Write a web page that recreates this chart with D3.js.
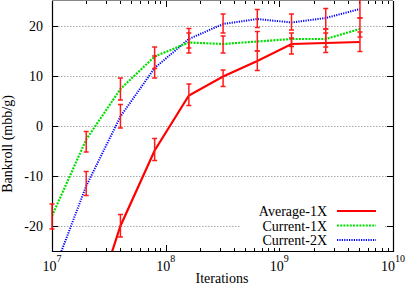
<!DOCTYPE html>
<html>
<head>
<meta charset="utf-8">
<script src="https://cdn.jsdelivr.net/npm/d3@7"></script>
<style>
  body { margin: 0; background: #fff; }
  text { font-family: "Liberation Serif", "DejaVu Serif", "Times New Roman", serif; }
</style>
</head>
<body>
<div id="chart"></div>
<script>
// iterations (doubling from 1e7)
var iters = [1e7, 2e7, 4e7, 8e7, 1.6e8, 3.2e8, 6.4e8, 1.28e9, 2.56e9, 5.12e9];

// Average-1X
var avg1x   = [null, -41, -20, -4.9, 6.1, 9.9, 13.0, 16.4, 16.6, 16.8];
var avg1xHi = [null, null, -17.7, -2.5, 8.4, 11.2, 15.0, 17.6, 18.6, 18.8];
var avg1xLo = [null, null, -22.2, -6.9, 4.1, 7.9, 11.1, 14.4, 14.7, 14.9];

// Current-1X
var cur1x   = [-18.0, -2.7, 7.4, 13.9, 16.7, 16.4, 16.9, 17.4, 17.4, 19.4];
var cur1xHi = [-15.6, -1.1, 9.6, 15.8, 18.6, 18.0, 18.9, 18.6, 19.4, 21.6];
var cur1xLo = [-20.6, -5.2, 5.2, 11.5, 14.6, 14.6, 15.0, 15.9, 15.8, 17.8];

// Current-2X
var cur2x   = [-30, -12, 1.9, 11.6, 17.4, 20.4, 21.4, 20.7, 21.6, 23.4];
var cur2xHi = [null, -9.1, 4.3, 14.0, 19.5, 22.4, 23.3, 22.4, 23.5, 25.4];
var cur2xLo = [null, -13.9, -0.4, 9.6, 15.6, 18.6, 19.7, 19.2, 19.4, 21.6];

var yTicks = [-20, -10, 0, 10, 20];
var xDecades = [1e7, 1e8, 1e9, 1e10];
var xExps = ["7", "8", "9", "10"];

var W = 407, H = 286;
var pLeft = 52, pRight = 393, pTop = 1, pBottom = 251;

var svg = d3.select("#chart").append("svg")
  .attr("width", W)
  .attr("height", H);

var x = d3.scaleLog().domain([1e7, 1e10]).range([pLeft, pRight]);
var y = d3.scaleLinear().domain([-25, 25]).range([pBottom, pTop]);

var defs = svg.append("defs");
defs.append("clipPath").attr("id", "clip")
  .append("rect")
  .attr("x", pLeft).attr("y", pTop)
  .attr("width", pRight - pLeft).attr("height", pBottom - pTop);
defs.append("clipPath").attr("id", "clipBars")
  .append("rect")
  .attr("x", pLeft - 6).attr("y", 0)
  .attr("width", pRight - pLeft + 12).attr("height", pBottom);

// grid
svg.append("g").selectAll("line")
  .data(yTicks)
  .enter().append("line")
  .attr("x1", pLeft).attr("x2", pRight)
  .attr("y1", d => Math.round(y(d)) + 0.5)
  .attr("y2", d => Math.round(y(d)) + 0.5)
  .attr("stroke", "#aaa")
  .attr("stroke-dasharray", "1.5,1.5");

// minor / major x ticks
var minor = [];
for (var e = 7; e < 10; e++) {
  for (var m = 2; m <= 9; m++) minor.push(m * Math.pow(10, e));
}
var tickG = svg.append("g").attr("stroke", "#000");
minor.forEach(function(v) {
  var px = Math.round(x(v)) + 0.5;
  tickG.append("line").attr("x1", px).attr("x2", px).attr("y1", pBottom).attr("y2", pBottom - 3);
  tickG.append("line").attr("x1", px).attr("x2", px).attr("y1", pTop).attr("y2", pTop + 3);
});
xDecades.forEach(function(v) {
  var px = Math.round(x(v)) + 0.5;
  tickG.append("line").attr("x1", px).attr("x2", px).attr("y1", pBottom).attr("y2", pBottom - 6);
  tickG.append("line").attr("x1", px).attr("x2", px).attr("y1", pTop).attr("y2", pTop + 6);
});
yTicks.forEach(function(v) {
  var py = Math.round(y(v)) + 0.5;
  tickG.append("line").attr("x1", pLeft).attr("x2", pLeft + 6).attr("y1", py).attr("y2", py);
  tickG.append("line").attr("x1", pRight).attr("x2", pRight - 6).attr("y1", py).attr("y2", py);
});

// series lines
var plot = svg.append("g").attr("clip-path", "url(#clip)");

function lineFor(vals) {
  return d3.line()
    .defined(d => d[1] != null)
    .x(d => x(d[0]))
    .y(d => y(d[1]))(iters.map((t, i) => [t, vals[i]]));
}

var series = [
  { name: "Average-1X", vals: avg1x, hi: avg1xHi, lo: avg1xLo, color: "#ff0000", width: 2.2, dash: null },
  { name: "Current-1X", vals: cur1x, hi: cur1xHi, lo: cur1xLo, color: "#00e000", width: 2.2, dash: "2,1.2" },
  { name: "Current-2X", vals: cur2x, hi: cur2xHi, lo: cur2xLo, color: "#0000ff", width: 2, dash: "1.2,1.2" }
];

series.slice().reverse().forEach(function(s) {
  plot.append("path")
    .attr("d", lineFor(s.vals))
    .attr("fill", "none")
    .attr("stroke", s.color)
    .attr("stroke-width", s.width)
    .attr("stroke-dasharray", s.dash);
});

// frame
svg.append("line").attr("x1", pLeft).attr("x2", pRight).attr("y1", 0.5).attr("y2", 0.5)
  .attr("stroke", "#888").attr("stroke-width", 1);
svg.append("path")
  .attr("d", "M" + (pLeft + 0.5) + "," + pTop + "V" + (pBottom + 0.5) + "H" + (pRight + 0.5) + "V" + pTop)
  .attr("fill", "none").attr("stroke", "#000").attr("stroke-width", 1.2);

// error bars (all red), drawn over the frame
var bars = svg.append("g").attr("clip-path", "url(#clipBars)");
series.forEach(function(s) {
  iters.forEach(function(t, i) {
    if (s.hi[i] == null) return;
    var px = x(t);
    var g = bars.append("g").attr("stroke", "#ff1a1a").attr("stroke-width", 1.5);
    g.append("line").attr("x1", px).attr("x2", px).attr("y1", y(s.hi[i])).attr("y2", y(s.lo[i]));
    g.append("line").attr("x1", px - 2.5).attr("x2", px + 2.5).attr("y1", y(s.hi[i])).attr("y2", y(s.hi[i]));
    g.append("line").attr("x1", px - 2.5).attr("x2", px + 2.5).attr("y1", y(s.lo[i])).attr("y2", y(s.lo[i]));
  });
});

// legend
var leg = svg.append("g");
leg.append("rect")
  .attr("x", 240).attr("y", 203).attr("width", 144).attr("height", 45)
  .attr("fill", "#fff");
series.forEach(function(s, i) {
  var ly = 211 + i * 14.5;
  leg.append("text")
    .attr("x", 327).attr("y", ly + 5)
    .attr("text-anchor", "end")
    .attr("font-size", 14)
    .text(s.name);
  leg.append("line")
    .attr("x1", 337).attr("x2", 376)
    .attr("y1", ly).attr("y2", ly)
    .attr("stroke", s.color)
    .attr("stroke-width", s.width)
    .attr("stroke-dasharray", s.dash);
});

// y tick labels
svg.append("g").selectAll("text")
  .data(yTicks)
  .enter().append("text")
  .attr("x", 43)
  .attr("y", d => y(d) + 5)
  .attr("text-anchor", "end")
  .attr("font-size", 14)
  .text(d => d);

// x tick labels 10^n
xDecades.forEach(function(v, i) {
  var t = svg.append("text")
    .attr("y", 271)
    .attr("font-size", 14);
  t.append("tspan").text("10");
  t.append("tspan").attr("dy", -9).attr("font-size", 10).text(xExps[i]);
  var w = t.node().getComputedTextLength();
  t.attr("x", x(v) - w / 2);
});

// axis titles
svg.append("text")
  .attr("x", 222).attr("y", 283)
  .attr("text-anchor", "middle")
  .attr("font-size", 14)
  .text("Iterations");

svg.append("text")
  .attr("transform", "translate(12,144) rotate(-90)")
  .attr("text-anchor", "middle")
  .attr("font-size", 14)
  .text("Bankroll (mbb/g)");
</script>
</body>
</html>
